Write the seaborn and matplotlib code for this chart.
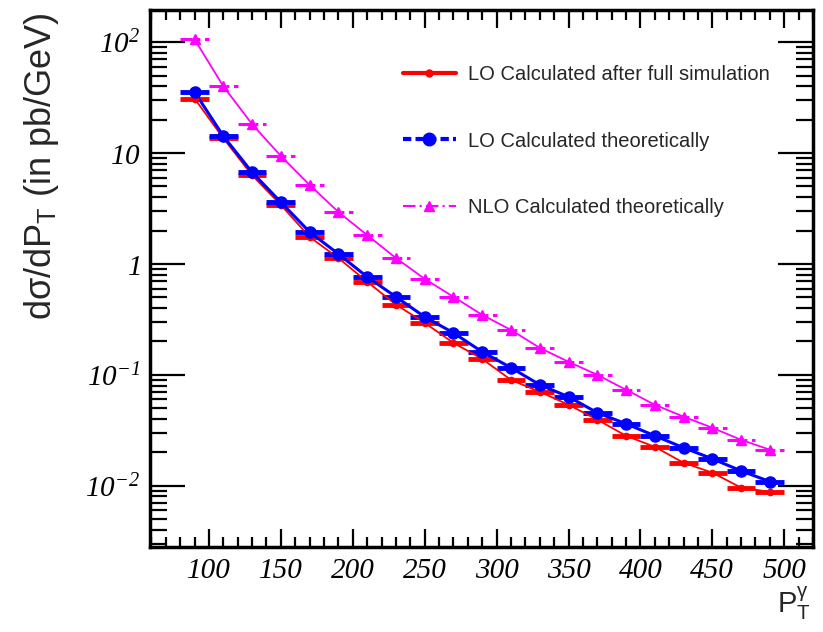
import numpy as np
import pandas as pd
import matplotlib
matplotlib.use("Agg")
import matplotlib.pyplot as plt
import seaborn as sns
from matplotlib.lines import Line2D
from matplotlib.ticker import MultipleLocator, LogLocator, NullFormatter

# ---- data ----
pt = [90, 110, 130, 150, 170, 190, 210, 230, 250, 270, 290, 310, 330, 350,
      370, 390, 410, 430, 450, 470, 490]
bin_half = 10
lo_sim = [31, 13.6, 6.3, 3.4, 1.75, 1.13, 0.69, 0.43, 0.294, 0.194, 0.139,
          0.090, 0.0703, 0.0537, 0.0394, 0.0282, 0.0224, 0.0161, 0.0131,
          0.0096, 0.0088]
lo_theory = [35.5, 14.2, 6.7, 3.6, 1.94, 1.23, 0.764, 0.505, 0.333, 0.239,
             0.161, 0.116, 0.0813, 0.0634, 0.0455, 0.0362, 0.0282, 0.0220,
             0.0175, 0.0136, 0.0109]
nlo_theory = [106, 40, 18.2, 9.4, 5.15, 2.94, 1.82, 1.13, 0.733, 0.505, 0.347,
              0.254, 0.175, 0.131, 0.100, 0.0733, 0.0537, 0.0419, 0.0333,
              0.0259, 0.0211]
series_names = ["LO Calculated after full simulation",
                "LO Calculated theoretically",
                "NLO Calculated theoretically"]
ytick_vals = [0.01, 0.1, 1, 10, 100]
ytick_labels = [r"$10^{-2}$", r"$10^{-1}$", r"$1$", r"$10$", r"$10^{2}$"]
xtick_vals = [100, 150, 200, 250, 300, 350, 400, 450, 500]

df = pd.DataFrame({
    "pt": pt * 3,
    "val": lo_sim + lo_theory + nlo_theory,
    "series": [series_names[0]] * len(pt) + [series_names[1]] * len(pt)
              + [series_names[2]] * len(pt),
})

sns.set_style("ticks")
plt.rcParams["font.family"] = ["Liberation Sans", "DejaVu Sans"]
plt.rcParams["mathtext.fontset"] = "custom"
plt.rcParams["mathtext.rm"] = "Liberation Serif:italic"
plt.rcParams["mathtext.it"] = "Liberation Serif:italic"
plt.rcParams["mathtext.sf"] = "Liberation Sans"

W, H = 823, 632
fig = plt.figure(figsize=(W / 100, H / 100), dpi=100)
L, R, T, B = 150, 813, 10, 547
ax = fig.add_axes([L / W, (H - B) / H, (R - L) / W, (B - T) / H])

colors = {series_names[0]: "#ff0000", series_names[1]: "#0000ff",
          series_names[2]: "#ff00ff"}
lws = {series_names[0]: 1.3, series_names[1]: 2.2, series_names[2]: 1.3}

# curves through points
n_before = len(ax.lines)
sns.lineplot(data=df, x="pt", y="val", hue="series", palette=colors,
             hue_order=series_names, legend=False, ax=ax, sort=True,
             estimator=None, zorder=3)
for line in ax.lines[n_before:]:
    c = matplotlib.colors.to_hex(line.get_color())
    for name in series_names:
        if c == colors[name]:
            line.set_linewidth(lws[name])

# error bars (horizontal bin widths)
eb_styles = {
    series_names[0]: dict(ls="-", lw=3.5),
    series_names[1]: dict(ls=(0, (2.5, 1.2)), lw=3.5),
    series_names[2]: dict(ls=(0, (4, 1.5, 1, 1.5)), lw=2.2),
}
for name in series_names:
    sub = df[df["series"] == name]
    eb = ax.errorbar(sub["pt"], sub["val"], xerr=bin_half, fmt="none",
                     ecolor=colors[name], elinewidth=eb_styles[name]["lw"],
                     capsize=0, zorder=2)
    eb[2][0].set_linestyle(eb_styles[name]["ls"])

# markers
markers = {series_names[0]: ("o", 4.5), series_names[1]: ("o", 8),
           series_names[2]: ("^", 6.5)}
for name in series_names:
    sub = df[df["series"] == name]
    ax.plot(sub["pt"], sub["val"], ls="none", marker=markers[name][0],
            ms=markers[name][1], color=colors[name], mec=colors[name], zorder=4)

ax.set_yscale("log")
ax.set_xlim(59, 520)
ax.set_ylim(0.0028, 195)

ax.set_yticks(ytick_vals)
ax.set_yticklabels(ytick_labels)
ax.yaxis.set_minor_locator(LogLocator(base=10, subs=np.arange(2, 10)))
ax.yaxis.set_minor_formatter(NullFormatter())
ax.set_xticks(xtick_vals)
ax.set_xticklabels([str(v) for v in xtick_vals])
ax.xaxis.set_minor_locator(MultipleLocator(10))

ax.tick_params(axis="both", which="both", direction="in", top=True,
               right=True, colors="black")
ax.tick_params(axis="x", which="major", length=13, width=1.6, pad=8)
ax.tick_params(axis="x", which="minor", length=7, width=1.6)
ax.tick_params(axis="y", which="major", length=25, width=1.6, pad=7)
ax.tick_params(axis="y", which="minor", length=12, width=1.6)
for lab in ax.get_yticklabels():
    lab.set_fontsize(21)
for lab in ax.get_xticklabels():
    lab.set_fontsize(21)
    lab.set_fontfamily("Liberation Serif")
    lab.set_fontstyle("italic")
for sp in ax.spines.values():
    sp.set_linewidth(2.5)
    sp.set_color("black")

ax.set_xlabel("")
ax.set_ylabel("")
fig.text(42 / W, (H - 166) / H, r"dσ/dP$_{\mathsf{T}}$ (in pb/GeV)",
         fontsize=26, rotation=90, ha="center", va="center")

fig.text(777 / W, (H - 613) / H, r"P$_{\mathsf{T}}^{\mathsf{γ}}$", fontsize=21,
         ha="left", va="baseline")

handles = [
    Line2D([], [], color="#ff0000", lw=3, ls="-", marker="o", ms=5),
    Line2D([], [], color="#0000ff", lw=3, ls=(0, (2, 1)), marker="o", ms=9),
    Line2D([], [], color="#ff00ff", lw=1.5, ls=(0, (6, 2, 1, 2)), marker="^",
           ms=7),
]
ax.legend(handles, series_names, loc="upper left",
          bbox_to_anchor=(0.382, 0.898), frameon=False, fontsize=14.5,
          handlelength=2.6, handletextpad=0.6, labelspacing=2.37,
          borderpad=0, borderaxespad=0)

fig.savefig("out.png", dpi=100)
